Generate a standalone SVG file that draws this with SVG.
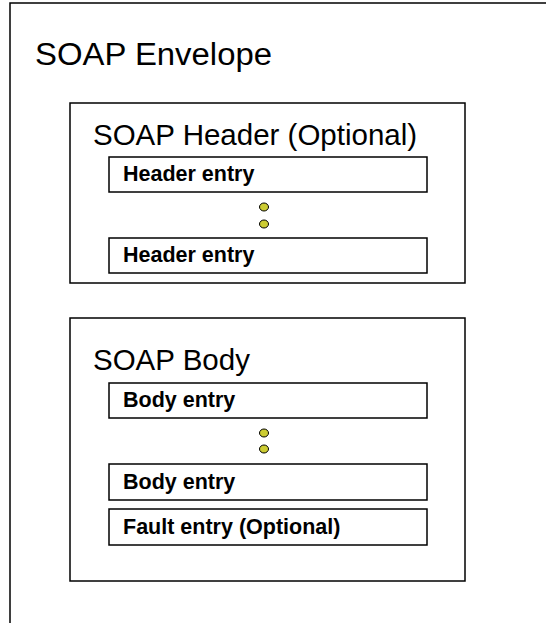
<svg xmlns="http://www.w3.org/2000/svg" width="546" height="623" viewBox="0 0 546 623">
<style>
.box{fill:#ffffff;stroke:#000000;stroke-width:1.5}
.title{font-family:"Liberation Sans",Arial,sans-serif;font-size:29.5px;fill:#000000}
.big{font-family:"Liberation Sans",Arial,sans-serif;font-size:31px;fill:#000000}
.entry{font-family:"Liberation Sans",Arial,sans-serif;font-size:21.5px;font-weight:bold;fill:#000000}
.dot{fill:#cccc33;stroke:#000000;stroke-width:1}
</style>
<rect width="546" height="623" fill="#ffffff"/>
<g id="envelope">
<rect class="box" x="10" y="3" width="560" height="640"/>
<text class="big" x="35" y="65" textLength="237" lengthAdjust="spacingAndGlyphs">SOAP Envelope</text>
</g>
<g id="header">
<rect class="box" x="70" y="103" width="395" height="180"/>
<text class="title" x="93" y="145">SOAP Header (Optional)</text>
</g>
<g id="header-entry-1">
<rect class="box" x="109" y="157" width="318" height="35"/>
<text class="entry" x="123" y="181">Header entry</text>
</g>
<g id="header-dots">
<ellipse class="dot" cx="264" cy="207" rx="4.5" ry="4"/>
<ellipse class="dot" cx="264" cy="224" rx="4.5" ry="4"/>
</g>
<g id="header-entry-2">
<rect class="box" x="109" y="238" width="318" height="35"/>
<text class="entry" x="123" y="262">Header entry</text>
</g>
<g id="body">
<rect class="box" x="70" y="318" width="395" height="263"/>
<text class="title" x="93" y="370">SOAP Body</text>
</g>
<g id="body-entry-1">
<rect class="box" x="109" y="383" width="318" height="35"/>
<text class="entry" x="123" y="407">Body entry</text>
</g>
<g id="body-dots">
<ellipse class="dot" cx="264" cy="433" rx="4.5" ry="4"/>
<ellipse class="dot" cx="264" cy="449" rx="4.5" ry="4"/>
</g>
<g id="body-entry-2">
<rect class="box" x="109" y="464" width="318" height="36"/>
<text class="entry" x="123" y="489">Body entry</text>
</g>
<g id="fault-entry">
<rect class="box" x="109" y="509" width="318" height="36"/>
<text class="entry" x="123" y="534">Fault entry (Optional)</text>
</g>
<g id="connectors"></g>
</svg>
